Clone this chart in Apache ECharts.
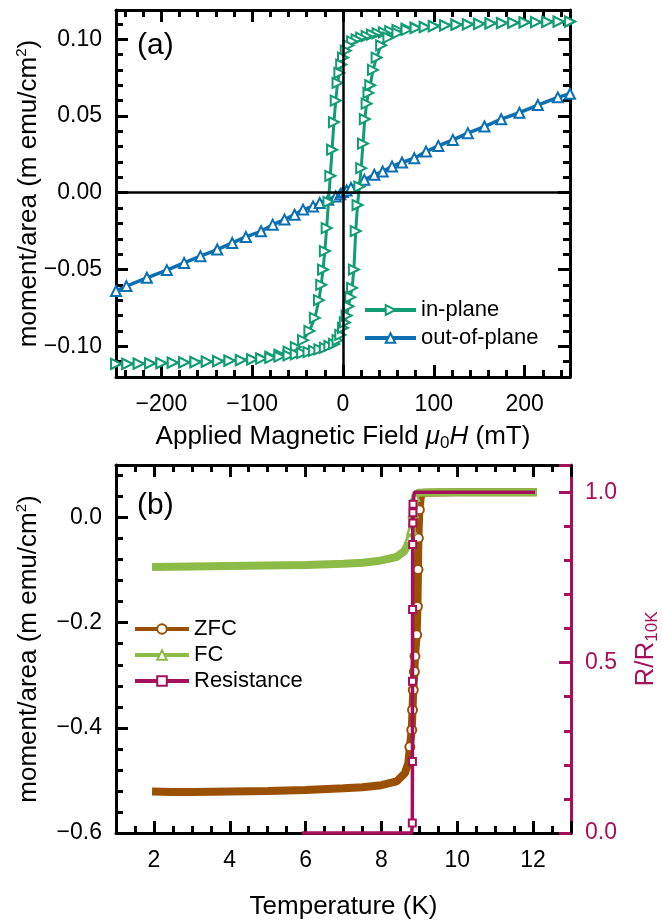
<!DOCTYPE html>
<html>
<head>
<meta charset="utf-8">
<script src="https://cdn.jsdelivr.net/npm/echarts@6/dist/echarts.min.js"></script>
<style>
html, body { margin: 0; padding: 0; background: #fff; }
#chart { width: 662px; height: 920px; }
</style>
</head>
<body>
<div id="chart"></div>
<script>
// ---- panel (a): hysteresis loops, field in mT, moment/area in m emu/cm2
var ipDescH = [250, 237.5, 225, 212.5, 200, 187.5, 175, 162.5, 150, 137.5, 125, 112.5, 100, 90, 80, 70, 60, 52, 45, 38,
  32, 26, 20, 15, 10, 6, 3, 0, -2, -4, -6, -8, -10, -12, -14, -16, -18, -20, -22, -24,
  -26.5, -31, -37, -44, -52, -60, -70, -80, -90, -100, -112.5, -125, -137.5, -150, -162.5, -175, -187.5, -200, -212.5, -225,
  -237.5, -250];
var ipDescM = [0.1115, 0.1114, 0.1113, 0.1111, 0.1110, 0.1107, 0.1105, 0.1103, 0.1100, 0.1097, 0.1094, 0.1090, 0.1085, 0.1080, 0.1075, 0.1068, 0.1060, 0.1053, 0.1045, 0.1038,
  0.1030, 0.1020, 0.1010, 0.0998, 0.0985, 0.0960, 0.0925, 0.0880, 0.0835, 0.0780, 0.0715, 0.0600, 0.0460, 0.0280, 0.0110, -0.0060, -0.0230, -0.0380, -0.0500, -0.0600,
  -0.0700, -0.0815, -0.0900, -0.0960, -0.1005, -0.1035, -0.1055, -0.1068, -0.1078, -0.1085, -0.1090, -0.1094, -0.1097, -0.1100, -0.1103, -0.1105, -0.1107, -0.1110, -0.1111, -0.1113,
  -0.1114, -0.1115];
var ipAscH = [-250, -237.5, -225, -212.5, -200, -187.5, -175, -162.5, -150, -137.5, -125, -112.5, -100, -90, -80, -70, -60, -52, -45, -38,
  -32, -26, -20, -15, -10, -6, -3, 0, 2, 4, 6, 8, 10, 12, 14, 16, 18, 20, 22, 24,
  26, 28, 30, 33, 37, 42, 50, 60, 70, 80, 90, 100, 112.5, 125, 137.5, 150, 162.5, 175, 187.5, 200,
  212.5, 225, 237.5, 250];
var ipAscM = [-0.1115, -0.1114, -0.1113, -0.1111, -0.1110, -0.1107, -0.1105, -0.1103, -0.1100, -0.1097, -0.1094, -0.1090, -0.1085, -0.1080, -0.1075, -0.1068, -0.1060, -0.1053, -0.1045, -0.1038,
  -0.1030, -0.1020, -0.1010, -0.0998, -0.0985, -0.0960, -0.0925, -0.0880, -0.0845, -0.0800, -0.0740, -0.0680, -0.0620, -0.0500, -0.0250, -0.0080, 0.0040, 0.0160, 0.0320, 0.0480,
  0.0580, 0.0650, 0.0700, 0.0800, 0.0880, 0.0960, 0.1010, 0.1040, 0.1060, 0.1072, 0.1078, 0.1085, 0.1090, 0.1094, 0.1097, 0.1100, 0.1103, 0.1105, 0.1107, 0.1110,
  0.1111, 0.1113, 0.1114, 0.1115];
var oopH = [-250, -238.5, -216, -194, -175, -157, -138.5, -122, -107, -90.3, -77.4, -64.4, -53.3, -44, -33, -25.6, -16.3, -8, -3, 0,
  4, 8.8, 23.5, 34.5, 43.7, 54, 65, 78.5, 91.5, 105, 121, 137.5, 155.8, 174.2, 194.3, 214.6, 236.6, 250];
var oopM = [-0.0640, -0.0608, -0.0554, -0.0504, -0.0457, -0.0413, -0.0370, -0.0327, -0.0288, -0.0251, -0.0208, -0.0175, -0.0143, -0.0110, -0.0089, -0.0067, -0.0045, -0.0025, -0.0010, 0.0005,
  0.0015, 0.0031, 0.0084, 0.0117, 0.0138, 0.0171, 0.0197, 0.0225, 0.0268, 0.0305, 0.0344, 0.0388, 0.0431, 0.0479, 0.0521, 0.0571, 0.0621, 0.0645];

// ---- panel (b): temperature in K
var zfcT = [1.95, 2.5, 3.0, 4.0, 5.0, 6.0, 7.0, 7.5, 8.0, 8.4, 8.62, 8.71, 8.75, 8.8, 8.82, 8.84, 8.87, 8.885, 8.93, 8.95,
  8.965, 8.975, 9.0, 9.04, 9.1, 9.15, 10.0, 11.0, 12.1];
var zfcM = [-0.521, -0.522, -0.522, -0.521, -0.520, -0.518, -0.515, -0.513, -0.509, -0.502, -0.486, -0.467, -0.436, -0.404, -0.366, -0.328, -0.293, -0.264, -0.223, -0.169,
  -0.099, -0.039, 0.015, 0.040, 0.047, 0.048, 0.048, 0.048, 0.048];
var fcT = [1.95, 3.0, 4.0, 5.0, 6.0, 7.0, 7.5, 7.96, 8.4, 8.6, 8.67, 8.75, 8.8, 8.84, 8.885, 8.95, 9.5, 10.0, 11.0, 12.1];
var fcM = [-0.094, -0.093, -0.092, -0.091, -0.090, -0.088, -0.086, -0.082, -0.075, -0.064, -0.055, -0.040, -0.023, 0.009, 0.040, 0.047, 0.048, 0.048, 0.048, 0.048];
var resT = [5.9, 7.0, 8.0, 8.80, 8.815, 8.818, 8.82, 8.822, 8.825, 8.828, 8.83, 8.833, 8.87, 9.5, 10.5, 11.5, 12.05];
var resR = [0.0, 0.0, 0.0, 0.0, 0.029, 0.21, 0.445, 0.656, 0.847, 0.91, 0.94, 0.965, 1.0, 1.0, 1.0, 1.0, 1.0];

var FONT = "'Liberation Sans', Arial, Helvetica, sans-serif";
var GREEN = '#119c74', BLUE = '#0b6fb3', BROWN = '#9a5002', LGREEN = '#8dbb47', MAG = '#a50f5c';

function pairs(xs, ys) {
  return xs.map(function (x, i) { return [x, ys[i]]; });
}
// markers only inside the transition window, the flat parts are just the thick line
function withMarks(xs, ys, lo, hi) {
  return xs.map(function (x, i) {
    var item = { value: [x, ys[i]] };
    if (x < lo || x > hi) item.symbol = 'none';
    return item;
  });
}
function fmt(d) {
  return function (v) { return (v < 0 ? '\u2212' : '') + Math.abs(v).toFixed(d); };
}

function frame(o) {
  var color = o.color || '#000';
  return {
    type: 'value', gridIndex: o.grid, position: o.position,
    min: o.min, max: o.max, interval: o.interval, splitNumber: o.split,
    axisLine: { show: true, onZero: false, lineStyle: { color: color, width: 3 } },
    axisTick: { show: true, inside: true, length: 12, lineStyle: { color: color, width: 3 } },
    minorTick: { show: true, splitNumber: o.minor, length: 7, lineStyle: { color: color, width: 3 } },
    splitLine: { show: false },
    axisLabel: o.labels ? {
      show: true, fontSize: 23, fontFamily: FONT, color: color, margin: o.margin || 14,
      showMinLabel: o.showMin === true, showMaxLabel: false, formatter: o.labels
    } : { show: false },
    name: o.name, nameLocation: 'middle', nameGap: o.nameGap, nameRotate: o.nameRotate,
    nameMoveOverlap: false,
    nameTextStyle: {
      fontSize: 26, fontFamily: FONT, color: color, lineHeight: 30,
      rich: {
        sup: { fontSize: 15, fontFamily: FONT, color: color, verticalAlign: 'top', lineHeight: 15 },
        sub: { fontSize: 17, fontFamily: FONT, color: color, verticalAlign: 'bottom', lineHeight: 17 },
        i: { fontSize: 26, fontFamily: FONT, color: color, fontStyle: 'italic', lineHeight: 30 }
      }
    }
  };
}

var chart = echarts.init(document.getElementById('chart'));
chart.setOption({
  animation: false,
  backgroundColor: '#fff',
  grid: [
    { left: 116, top: 10, width: 454, height: 367, containLabel: false, outerBoundsMode: 'none' },
    { left: 116, top: 465, width: 455, height: 368, containLabel: false, outerBoundsMode: 'none' }
  ],
  xAxis: [
    frame({ grid: 0, position: 'bottom', min: -250, max: 250, split: 5, minor: 5, labels: fmt(0), margin: 16,
      name: 'Applied Magnetic Field {i|\u03bc}{sub|0}{i|H} (mT)', nameGap: 45 }),
    frame({ grid: 0, position: 'top', min: -250, max: 250, split: 5, minor: 5 }),
    frame({ grid: 1, position: 'bottom', min: 1, max: 13, split: 6, minor: 4, labels: fmt(0), margin: 16,
      name: 'Temperature (K)', nameGap: 59 }),
    frame({ grid: 1, position: 'top', min: 1, max: 13, split: 6, minor: 4 })
  ],
  yAxis: [
    frame({ grid: 0, position: 'left', min: -0.12, max: 0.119, split: 5, minor: 5, labels: fmt(2),
      name: 'moment/area (m emu/cm{sup|2})', nameGap: 72, nameRotate: 90 }),
    frame({ grid: 0, position: 'right', min: -0.12, max: 0.119, split: 5, minor: 5 }),
    frame({ grid: 1, position: 'left', min: -0.6, max: 0.1, split: 4, minor: 5, labels: fmt(1), showMin: true,
      name: 'moment/area (m emu/cm{sup|2})', nameGap: 72, nameRotate: 90 }),
    frame({ grid: 1, position: 'right', min: 0, max: 1.08, interval: 0.5, minor: 5, labels: fmt(1), showMin: true,
      color: MAG, name: 'R/R{sub|10K}', nameGap: 60, nameRotate: 90 })
  ],
  legend: [
    { data: ['in-plane', 'out-of-plane'], orient: 'vertical', left: 363, top: 299, padding: 0,
      itemWidth: 51, itemHeight: 12, itemGap: 6, selectedMode: false, symbolRotate: 'inherit',
      lineStyle: { width: 4 }, textStyle: { fontSize: 22, fontFamily: FONT, color: '#000' } },
    { data: ['ZFC', 'FC', 'Resistance'], orient: 'vertical', left: 133, top: 618, padding: 0,
      itemWidth: 54, itemHeight: 12, itemGap: 4, selectedMode: false, symbolRotate: 'inherit',
      lineStyle: { width: 4 }, textStyle: { fontSize: 22, fontFamily: FONT, color: '#000' } }
  ],
  graphic: [
    { type: 'text', left: 137, top: 31, style: { text: '(a)', font: '30px ' + FONT, fill: '#000' } },
    { type: 'text', left: 137, top: 491, style: { text: '(b)', font: '30px ' + FONT, fill: '#000' } }
  ],
  series: [
    {
      type: 'line', xAxisIndex: 0, yAxisIndex: 0, data: [], z: 1, silent: true,
      markLine: {
        silent: true, symbol: ['none', 'none'], animation: false, label: { show: false },
        lineStyle: { color: '#000', width: 2.5, type: 'solid' },
        data: [{ xAxis: 0 }, { yAxis: 0 }]
      }
    },
    {
      name: 'out-of-plane', type: 'line', xAxisIndex: 0, yAxisIndex: 0, z: 3,
      data: pairs(oopH, oopM),
      symbol: 'emptyTriangle', symbolSize: 10,
      itemStyle: { color: BLUE }, lineStyle: { color: BLUE, width: 3.5 }
    },
    {
      name: 'in-plane', type: 'line', xAxisIndex: 0, yAxisIndex: 0, z: 4,
      data: pairs(ipDescH.concat(ipAscH), ipDescM.concat(ipAscM)),
      symbol: 'emptyTriangle', symbolSize: 10, symbolRotate: -90,
      itemStyle: { color: GREEN }, lineStyle: { color: GREEN, width: 3 }
    },
    {
      name: 'ZFC', type: 'line', xAxisIndex: 2, yAxisIndex: 2, z: 3,
      data: withMarks(zfcT, zfcM, 8.74, 9.01),
      symbol: 'emptyCircle', symbolSize: 9,
      itemStyle: { color: BROWN }, lineStyle: { color: BROWN, width: 8 }
    },
    {
      name: 'FC', type: 'line', xAxisIndex: 2, yAxisIndex: 2, z: 4,
      data: withMarks(fcT, fcM, 8.74, 8.9),
      symbol: 'emptyTriangle', symbolSize: 9,
      itemStyle: { color: LGREEN }, lineStyle: { color: LGREEN, width: 8 }
    },
    {
      name: 'Resistance', type: 'line', xAxisIndex: 2, yAxisIndex: 3, z: 5, clip: false,
      data: withMarks(resT, resR, 8.81, 8.84),
      symbol: 'emptyRect', symbolSize: 7,
      itemStyle: { color: MAG }, lineStyle: { color: MAG, width: 3.5 }
    }
  ]
});
</script>
</body>
</html>
